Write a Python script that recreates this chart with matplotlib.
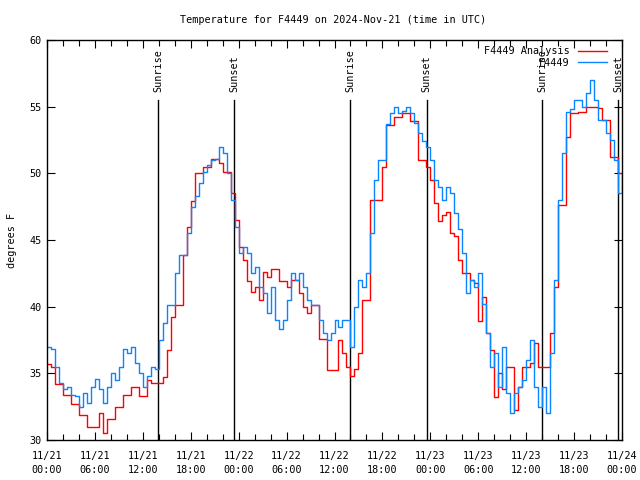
import matplotlib
matplotlib.use("Agg")
import matplotlib.pyplot as plt
import numpy as np

# hours since 2024-11-21 00:00 UTC, half-hour steps
horas = np.arange(0, 72.5, 0.5)

# F4449 observed (degrees F)
obs = [
    37.0, 36.8, 35.5, 34.3, 33.8, 34.0, 33.4, 33.3, 32.5, 33.5, 32.8, 34.0,
    34.6, 33.8, 32.8, 34.0, 35.0, 34.5, 35.5, 36.8, 36.5, 37.0, 35.8, 35.0,
    34.0, 34.8, 35.5, 35.3, 37.5, 38.8, 40.1, 40.1, 42.5, 43.9, 43.9, 45.5,
    47.5, 48.3, 49.3, 50.1, 50.6, 51.0, 51.1, 52.0, 51.5, 50.0, 48.0, 46.0,
    44.0, 44.5, 44.0, 42.5, 43.0, 41.5, 41.0, 39.5, 41.5, 39.0, 38.3, 39.0,
    40.5, 42.5, 42.0, 42.5, 41.5, 40.5, 40.1, 40.1, 39.0, 38.0, 37.5, 38.0,
    39.0, 38.5, 39.0, 39.0, 37.0, 40.0, 42.0, 41.5, 42.5, 45.5, 49.5, 51.0,
    51.0, 53.7, 54.5, 55.0, 54.5, 54.7, 55.0, 54.5, 53.8, 53.0, 52.4, 52.0,
    51.0, 49.5, 49.0, 48.0, 49.0, 48.5, 47.0, 45.8, 44.0, 41.0, 42.0, 41.5,
    42.5, 40.2, 38.0, 35.5, 36.5, 34.0, 37.0, 33.5, 32.0, 33.5, 34.0, 34.5,
    36.0, 37.5, 34.0, 32.5, 34.0, 32.0, 36.5, 42.0, 48.0, 51.5, 54.6, 54.8,
    55.5, 55.5, 55.0, 56.0, 57.0, 55.5, 54.0, 54.0, 53.0, 52.5, 51.0, 48.5,
    49.0,
]

# F4449 analysis (degrees F)
analise = [
    35.7, 35.5, 34.2, 34.2, 33.4, 33.4, 32.7, 32.7, 31.9, 31.9, 31.0, 31.0,
    31.0, 32.0, 30.5, 31.6, 31.6, 32.5, 32.5, 33.4, 33.4, 34.0, 34.0, 33.3,
    33.3, 34.5, 34.25, 34.25, 34.25, 34.75, 36.75, 39.25, 40.1, 40.1, 43.9, 46.0,
    47.9, 50.0, 50.0, 50.5, 50.5, 51.1, 51.1, 50.75, 50.1, 50.1, 48.5, 46.5,
    44.5, 43.5, 41.9, 41.1, 41.5, 40.5, 42.6, 42.25, 42.8, 42.8, 41.9, 41.9,
    41.5, 42.0, 42.0, 41.0, 40.0, 39.5, 40.1, 40.1, 37.6, 37.6, 35.25, 35.25,
    35.25, 37.5, 36.5, 35.5, 34.8, 35.3, 36.5, 40.5, 40.5, 48.0, 48.0, 48.0,
    50.5, 53.6, 53.6, 54.25, 54.25, 54.5, 54.5, 53.9, 53.9, 51.0, 51.0, 50.5,
    49.5, 47.75, 46.4, 46.9, 47.1, 45.5, 45.3, 43.5, 42.5, 42.5, 42.0, 41.75,
    38.9, 40.7, 38.0, 36.75, 33.25, 35.0, 33.8, 35.5, 35.5, 32.25, 34.0, 35.5,
    35.5, 35.75, 37.3, 35.5, 35.5, 35.5, 38.0, 41.5, 47.6, 47.6, 52.75, 54.5,
    54.5, 54.6, 54.6, 55.0, 55.0, 55.0, 54.9, 54.0, 54.0, 51.25, 51.25, 50.0,
    49.0,
]

# sunrise / sunset (hours since start)
sol_horas = [13.95, 23.47, 37.97, 47.55, 62.0, 71.55]
sol_rotulos = ["Sunrise", "Sunset", "Sunrise", "Sunset", "Sunrise", "Sunset"]

xtick_pos = list(range(0, 73, 6))
xtick_rotulos = [
    "11/21\n00:00", "11/21\n06:00", "11/21\n12:00", "11/21\n18:00",
    "11/22\n00:00", "11/22\n06:00", "11/22\n12:00", "11/22\n18:00",
    "11/23\n00:00", "11/23\n06:00", "11/23\n12:00", "11/23\n18:00",
    "11/24\n00:00",
]

FS = 7.3
plt.rcParams['font.family'] = 'DejaVu Sans Mono'
plt.rcParams['font.size'] = FS

fig = plt.figure(figsize=(6.4, 4.8), dpi=100)
ax = fig.add_axes([47 / 640, 40 / 480, 575 / 640, 400 / 480])

# linhas do nascer / por do sol
for h, rot in zip(sol_horas, sol_rotulos):
    ax.plot([h, h], [30, 55.5], color='black', linewidth=1.0)
    ax.text(h, 56.1, rot, rotation=90, ha='center', va='bottom', fontsize=FS)

l_an, = ax.plot(horas, analise, color='red', linewidth=1.0, drawstyle='steps-post')
l_obs, = ax.plot(horas, obs, color='#0a84ff', linewidth=1.0, drawstyle='steps-post')

ax.set_xlim(0, 72)
ax.set_ylim(30, 60)
ax.set_xticks(xtick_pos)
ax.set_xticklabels(xtick_rotulos, linespacing=1.5)
ax.set_xticks(range(0, 73, 2), minor=True)
ax.set_yticks(range(30, 61, 5))

ax.tick_params(which='both', direction='in', top=True, right=True, labelsize=FS)
ax.tick_params(which='major', length=6, width=0.8)
ax.tick_params(which='minor', length=4, width=0.8)
ax.tick_params(axis='x', pad=8)
ax.tick_params(axis='y', pad=4)
for s in ax.spines.values():
    s.set_linewidth(1.0)

ax.set_ylabel('degrees F', fontsize=FS, labelpad=9)
fig.text(0.52, 1 - 20 / 480, 'Temperature for F4449 on 2024-Nov-21 (time in UTC)',
         ha='center', va='center', fontsize=FS)

ax.legend([l_an, l_obs], ['F4449 Analysis', 'F4449'], loc='upper right',
          frameon=False, markerfirst=False, fontsize=FS, handlelength=2.9,
          handletextpad=0.8, labelspacing=0.15, borderaxespad=0.2,
          bbox_to_anchor=(0.985, 1.0))

plt.savefig('out.png', dpi=100)
plt.close()
